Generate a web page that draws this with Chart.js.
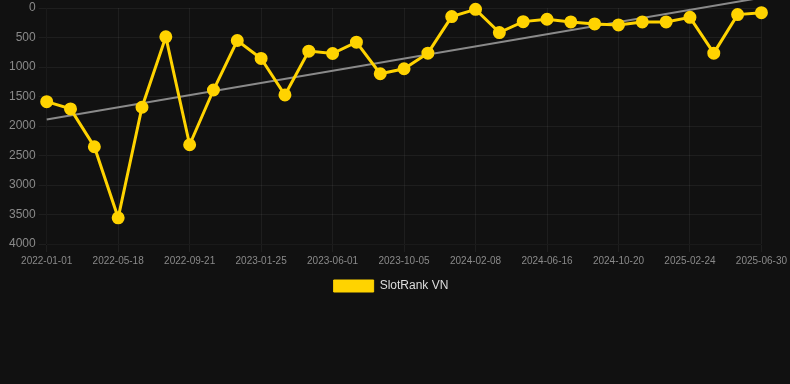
<!DOCTYPE html>
<html>
<head>
<meta charset="utf-8">
<script src="https://cdn.jsdelivr.net/npm/chart.js@4/dist/chart.umd.min.js"></script>
<style>
  html, body { margin: 0; padding: 0; background: #111111; }
  #wrap { width: 790px; height: 302px; position: relative; }
</style>
</head>
<body>
<div id="wrap"><canvas id="rank-chart"></canvas></div>
<script>
  // dates of each sample (every third one is shown on the axis)
  var dates = [
    '2022-01-01', '2022-02-15', '2022-04-02', '2022-05-18', '2022-07-03', '2022-08-06',
    '2022-09-21', '2022-11-06', '2022-12-10', '2023-01-25', '2023-03-12', '2023-04-16',
    '2023-06-01', '2023-07-17', '2023-08-20', '2023-10-05', '2023-11-20', '2023-12-24',
    '2024-02-08', '2024-03-25', '2024-05-01', '2024-06-16', '2024-08-01', '2024-09-04',
    '2024-10-20', '2024-12-05', '2025-01-09', '2025-02-24', '2025-04-11', '2025-05-15',
    '2025-06-30'
  ];

  var rankVN = [
    1587, 1710, 2352, 3556, 1682, 489,
    2318, 1390, 551, 855, 1474, 731,
    771, 580, 1114, 1030, 765, 146,
    23, 416, 231, 191, 236, 270,
    287, 236, 236, 158, 765, 112,
    79
  ];

  // trend line end points
  var trendStart = 1890;
  var trendEnd = -175;

  var yTicks = { min: 0, max: 4000, step: 500 };

  var trend = dates.map(function (d, i) {
    if (i === 0) return trendStart;
    if (i === dates.length - 1) return trendEnd;
    return null;
  });

  var gridCol = 'rgba(255,255,255,0.055)';
  var txtCol = '#8a8a8a';
  var FONT = 'Arial, "Liberation Sans", sans-serif';

  // nudge the legend a few px left, like the original
  var legendShift = {
    id: 'legendShift',
    afterUpdate: function (chart) {
      if (chart.legend) { chart.legend.left -= 10; }
    },
  };

  new Chart(document.getElementById('rank-chart'), {
    type: 'line',
    data: {
      labels: dates,
      datasets: [{
        label: 'SlotRank VN',
        data: rankVN,
        borderColor: '#FFD300',
        backgroundColor: '#FFD300',
        borderWidth: 3,
        pointRadius: 5,
        pointHoverRadius: 5,
        tension: 0,
        clip: 8,
        order: 1,
      }, {
        label: 'trend',
        data: trend,
        spanGaps: true,
        borderColor: '#8a8a8a',
        borderWidth: 2,
        pointRadius: 0,
        tension: 0,
        clip: false,
        order: 2,
      }],
    },
    plugins: [legendShift],
    options: {
      responsive: true,
      maintainAspectRatio: false,
      animation: false,
      layout: { padding: { left: 6, right: 4, top: 0, bottom: 0 } },
      plugins: {
        legend: {
          position: 'bottom',
          labels: {
            color: '#dddddd',
            boxWidth: 40,
            boxHeight: 12,
            font: { size: 12, family: FONT },
            filter: function (item) { return item.text !== 'trend'; },
            generateLabels: function (chart) {
              var items = Chart.defaults.plugins.legend.labels.generateLabels(chart);
              items.forEach(function (it) { it.lineWidth = 1; });
              return items;
            },
          },
        },
        tooltip: { enabled: false },
      },
      scales: {
        x: {
          offset: false,
          grid: {
            color: function (ctx) { return ctx.index % 3 === 0 ? gridCol : 'rgba(0,0,0,0)'; },
          },
          ticks: {
            color: txtCol,
            autoSkip: false,
            maxRotation: 0,
            font: { size: 10, family: FONT },
            callback: function (v, i) { return i % 3 === 0 ? dates[i] : ''; },
          },
        },
        y: {
          reverse: true,
          min: yTicks.min,
          max: yTicks.max,
          grid: { color: gridCol },
          ticks: {
            color: txtCol,
            stepSize: yTicks.step,
            font: { size: 12, family: FONT, lineHeight: 0.25 },
            callback: function (v) { return String(v); },
          },
        },
      },
    },
  });
</script>
</body>
</html>
